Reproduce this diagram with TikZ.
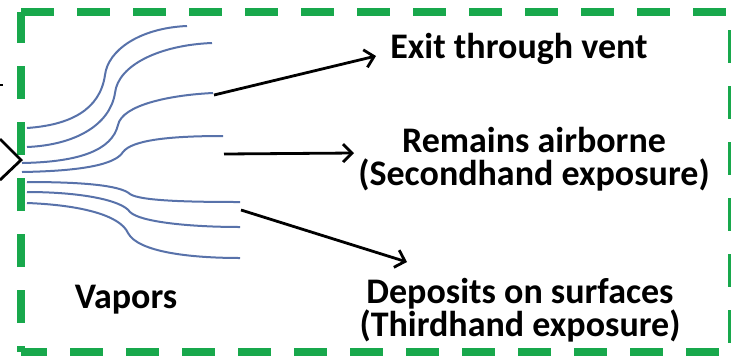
\documentclass[tikz,border=0pt]{standalone}
\usepackage{fontspec}
\setmainfont{Carlito}
\usetikzlibrary{arrows.meta}
\definecolor{boxgreen}{RGB}{24,168,76}
\definecolor{vapor}{RGB}{88,114,170}
\begin{document}
\begin{tikzpicture}[x=1pt,y=-1pt,
  frame/.style={draw=boxgreen, line width=8pt, dash pattern=on 33pt off 23pt},
  vap/.style={draw=vapor, line width=2pt},
  arr/.style={draw=black, line width=2.8pt, -{Straight Barb[length=9pt,width=18pt]}},
  lbl/.style={font=\bfseries\fontsize{36}{33}\selectfont, align=center, inner sep=0pt, anchor=base}]
\useasboundingbox (0,0) rectangle (731,360);
\clip (0,0) rectangle (731,360);
% frame
\draw[frame, dash phase=0pt] (21,12) -- (732,12);
\draw[frame, dash phase=38pt] (732,12) -- (732,352);
\draw[frame, dash phase=7pt] (21,352) -- (732,352);
\draw[frame, dash phase=27pt] (21,352) -- (21,12);
% fragments at left edge
\draw[line width=2.8pt, line join=miter] (0,139) -- (21,160) -- (0,180);
\draw[line width=2.5pt] (0,85) -- (3,85);
% vapors
\draw[vap] (27,128) .. controls (70,125) and (100,110) .. (105,75) .. controls (108,50) and (140,28) .. (187,26);
\draw[vap] (27,147) .. controls (75,145) and (110,125) .. (115,93) .. controls (118,65) and (160,45) .. (212,43);
\draw[vap] (22,163) .. controls (80,162) and (112,150) .. (118,125) .. controls (122,105) and (170,95) .. (213,93);
\draw[vap] (22,172) .. controls (80,171) and (115,165) .. (123,152) .. controls (132,140) and (170,136) .. (223,136);
\draw[vap] (27,182) .. controls (80,182) and (120,185) .. (130,194) .. controls (140,201) and (190,202) .. (240,202);
\draw[vap] (27,192) .. controls (80,192) and (122,200) .. (130,212) .. controls (140,222) and (190,227) .. (240,227);
\draw[vap] (27,203) .. controls (80,205) and (120,215) .. (128,233) .. controls (138,252) and (190,258) .. (240,258);
% labels (base anchor = baseline of the last line)
\node[lbl] (exit) at (519,58) {Exit through vent};
\node[lbl] (air) at (534,185) {Remains airborne\\(Secondhand exposure)};
\node[lbl] (dep) at (520,336) {Deposits on surfaces\\(Thirdhand exposure)};
\node[lbl] (vap) at (126,308) {Vapors};
% arrows
\coordinate (a1s) at (214,95); \coordinate (a1e) at (376,56);
\coordinate (a2s) at (224,154); \coordinate (a2e) at (354,153);
\coordinate (a3s) at (241,210); \coordinate (a3e) at (407,262);
\draw[arr] (a1s) -- (a1e);
\draw[arr] (a2s) -- (a2e);
\draw[arr] (a3s) -- (a3e);
\end{tikzpicture}
\end{document}
